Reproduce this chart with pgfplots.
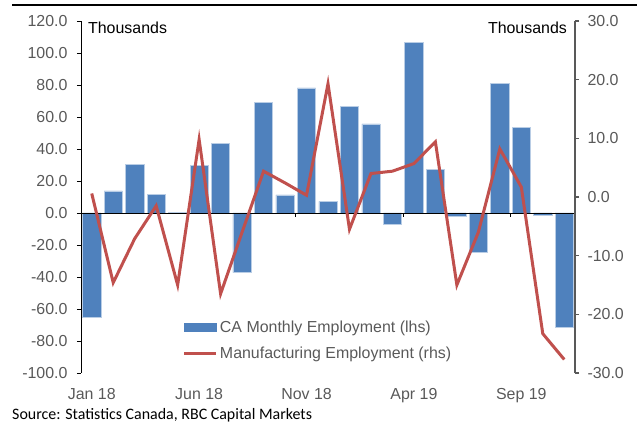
\documentclass[border=0pt]{standalone}
\usepackage{pgfplots}
\pgfplotsset{compat=1.18}
\usepackage{fontspec}
\setmainfont{Liberation Sans}
\newfontfamily\carlito{Carlito}
\definecolor{barblue}{RGB}{79,129,189}
\definecolor{baredge}{RGB}{185,205,229}
\definecolor{linered}{RGB}{192,80,77}
\definecolor{labgrey}{RGB}{89,89,89}
\pgfplotstableread{
x emp
0 -65.1
1 13.8
2 30.3
3 11.5
4 0.6
5 29.7
6 43.6
7 -37.3
8 69.1
9 11.3
10 78.2
11 7.3
12 66.8
13 55.7
14 -7.3
15 106.4
16 27.3
17 -2.3
18 -24.4
19 81.0
20 53.4
21 -1.6
22 -71.5
}\emptable
\pgfplotstableread{
x mfg
0 0.6
1 -14.6
2 -7.1
3 -1.5
4 -15.0
5 9.8
6 -16.5
7 -6.0
8 4.4
9 2.4
10 0.3
11 19.3
12 -5.5
13 4.0
14 4.4
15 5.7
16 9.4
17 -15.0
18 -6.0
19 8.2
20 1.7
21 -23.3
22 -27.7
}\mfgtable
\begin{document}
\begin{tikzpicture}
\useasboundingbox (0bp,0bp) rectangle (637bp,423bp);
\draw[line width=2bp] (12bp,417.5bp) -- (637bp,417.5bp);
\begin{axis}[
  at={(81bp,50bp)}, anchor=south west,
  width=494bp, height=352bp, scale only axis,
  xmin=-0.5, xmax=22.5,
  ymin=-100, ymax=120,
  ytick={-100,-80,...,120},
  axis y line*=left,
  axis x line*=bottom,
  x axis line style={draw=none},
  y axis line style={black, line width=0.8bp},
  xtick={0,5,10,15,20},
  xticklabels={Jan 18,Jun 18,Nov 18,Apr 19,Sep 19},
  xtick style={draw=none},
  ytick style={black, line width=0.8bp},
  tick align=outside,
  major tick length=4bp,
  tick label style={font=\fontsize{16}{18}\selectfont, text=labgrey},
  xticklabel style={yshift=-8bp},
  /pgf/number format/assume math mode=true,
  yticklabel={\pgfmathprintnumber[fixed,fixed zerofill,precision=1]{\tick}},
  yticklabel style={xshift=-6bp},
  clip=false,
]
\addplot[ybar, bar width=0.85, fill=barblue, draw=baredge, line width=0.6bp] table[x=x,y=emp] {\emptable};
\draw[black, line width=0.8bp] (axis cs:-0.5,0) -- (axis cs:22.5,0);
\pgfplotsinvokeforeach{4.5,9.5,14.5,19.5}{
  \draw[black, line width=0.8bp] (axis cs:#1,0) -- ([yshift=-4bp]axis cs:#1,0);
}
\node[anchor=west, font=\fontsize{16}{18}\selectfont, inner sep=0pt] at (rel axis cs:0.014,0.98) {Thousands};
\end{axis}
\begin{axis}[
  at={(81bp,50bp)}, anchor=south west,
  width=494bp, height=352bp, scale only axis,
  xmin=-0.5, xmax=22.5,
  ymin=-30, ymax=30,
  ytick={-30,-20,...,30},
  axis y line*=right,
  axis x line=none,
  y axis line style={black!65, line width=1.2bp},
  ytick style={black!65, line width=1.2bp},
  tick align=outside,
  major tick length=4bp,
  tick label style={font=\fontsize{16}{18}\selectfont, text=labgrey},
  /pgf/number format/assume math mode=true,
  yticklabel={\pgfmathprintnumber[fixed,fixed zerofill,precision=1]{\tick}},
  yticklabel style={xshift=5bp},
  clip=false,
  legend style={draw=none, fill=none, at={(rel axis cs:0.2,0.161)}, anchor=north west,
    font=\fontsize{16}{18}\selectfont, text=labgrey, row sep=9bp,
    nodes={inner xsep=2bp, inner ysep=2bp}},
  legend cell align=left,
]
\addlegendimage{legend image code/.code={\fill[barblue] (0bp,-4bp) rectangle (32bp,4bp);}}
\addlegendentry{CA Monthly Employment (lhs)}
\addplot[linered, line width=3bp, mark=none, legend image code/.code={\draw[linered, line width=3bp] (0bp,0bp) -- (32bp,0bp);}] table[x=x,y=mfg] {\mfgtable};
\addlegendentry{Manufacturing Employment (rhs)}
\node[anchor=east, font=\fontsize{16}{18}\selectfont, inner sep=0pt] at (rel axis cs:0.984,0.98) {Thousands};
\end{axis}
\node[anchor=base west, font=\carlito\fontsize{16}{18}\selectfont, inner sep=0pt] at (12bp,4bp) {Source: Statistics Canada, RBC Capital Markets};
\end{tikzpicture}
\end{document}
